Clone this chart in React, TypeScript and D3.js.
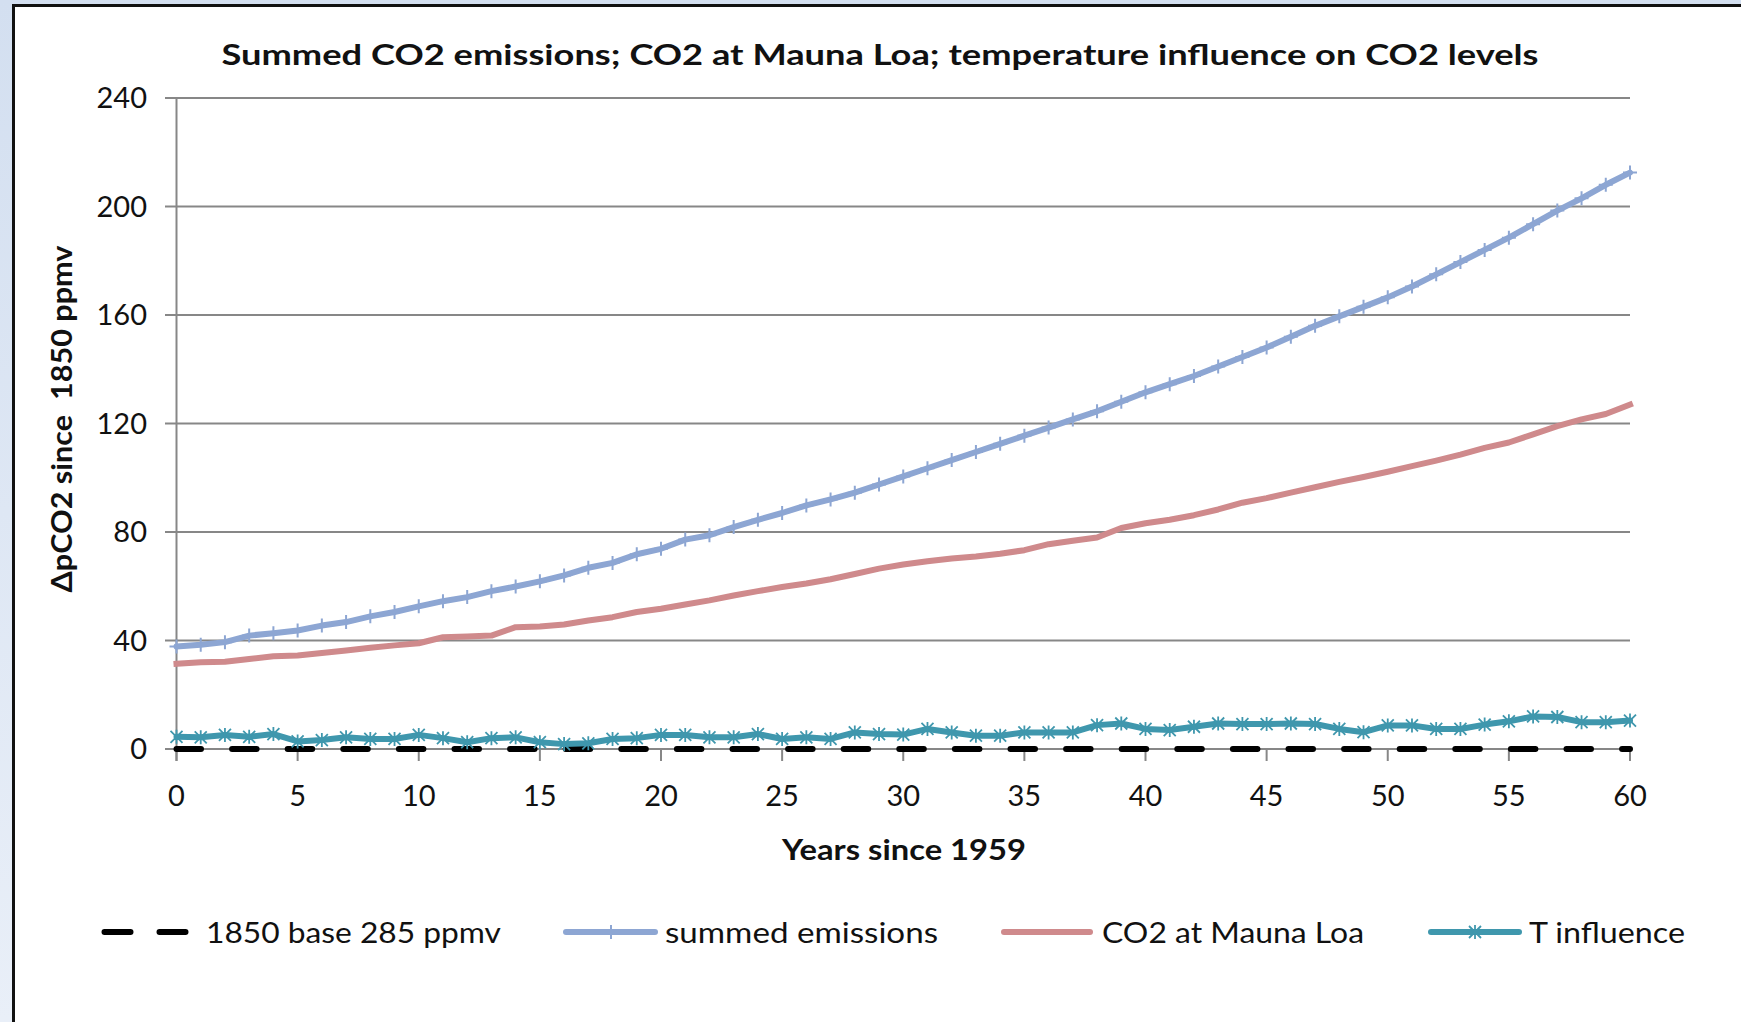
import React, { useEffect } from 'react';
import * as d3 from 'd3';

const W = 1741;
const H = 1022;

const titleText = 'Summed CO2 emissions; CO2 at Mauna Loa; temperature influence on CO2 levels';
const xTitle = 'Years since 1959';
const yTitle = 'ΔpCO2 since  1850 ppmv';

const yTicks = [0, 40, 80, 120, 160, 200, 240];
const xTicks = [0, 5, 10, 15, 20, 25, 30, 35, 40, 45, 50, 55, 60];

const legendLabels = ['1850 base 285 ppmv', 'summed emissions', 'CO2 at Mauna Loa', 'T influence'];

// 1850 base: constant 0 across the whole range
const baseYears = [0, 60];
const baseSeries = [0, 0];

const summedEmissions = [
  37.8, 38.4, 39.4, 41.8, 42.7, 43.7, 45.5, 46.8, 48.9, 50.5,
  52.6, 54.5, 56.0, 58.2, 59.9, 61.8, 64.0, 66.8, 68.6, 71.8,
  73.8, 77.2, 78.8, 81.8, 84.5, 87.0, 89.8, 92.0, 94.5, 97.5,
  100.5, 103.5, 106.5, 109.5, 112.5, 115.5, 118.5, 121.5, 124.5, 128.0,
  131.5, 134.5, 137.5, 141.0, 144.5, 148.0, 152.0, 156.0, 159.5, 163.0,
  166.5, 170.5, 175.0, 179.5, 184.0, 188.5, 193.5, 198.5, 203.0, 208.0,
  212.5,
];

const co2MaunaLoa = [
  31.4, 32.0, 32.2, 33.2, 34.2, 34.5, 35.4, 36.3, 37.3, 38.2,
  39.0, 41.2, 41.5, 41.8, 44.9, 45.2, 45.9, 47.4, 48.6, 50.5,
  51.7, 53.3, 54.8, 56.6, 58.2, 59.7, 61.0, 62.6, 64.5, 66.5,
  68.0, 69.2, 70.2, 71.0, 72.0, 73.3, 75.5, 76.8, 78.0, 81.5,
  83.2, 84.5, 86.2, 88.3, 90.8, 92.5, 94.5, 96.5, 98.5, 100.3,
  102.2, 104.3, 106.3, 108.5, 111.0, 113.0, 116.0, 119.0, 121.5, 123.5,
  127.0,
];

const tInfluence = [
  4.5, 4.3, 5.2, 4.5, 5.5, 2.8, 3.3, 4.3, 3.7, 3.7,
  5.2, 4.0, 2.5, 4.0, 4.3, 2.5, 1.8, 2.1, 3.7, 4.0,
  5.2, 5.2, 4.3, 4.3, 5.5, 3.7, 4.3, 3.7, 6.1, 5.5,
  5.3, 7.4, 6.1, 4.9, 4.9, 6.1, 6.1, 6.1, 8.8, 9.4,
  7.4, 7.0, 8.2, 9.4, 9.2, 9.2, 9.4, 9.2, 7.4, 6.2,
  8.7, 8.7, 7.4, 7.4, 9.0, 10.2, 12.0, 11.8, 9.9, 9.9,
  10.5,
];

const C_BLUE = '#8da6d3';
const C_RED = '#cf8a8c';
const C_TEAL = '#3f97ad';
const C_GRID = '#878787';
const FONT = 'Lato, Carlito, "Open Sans", sans-serif';

export default function App() {
  useEffect(() => {
    document.body.style.margin = '0';
  }, []);

  const x = d3.scaleLinear().domain([0, 60]).range([176.5, 1630]);
  const y = d3.scaleLinear().domain([0, 240]).range([749, 98]);

  const line = d3
    .line<number>()
    .x((_, i) => x(i))
    .y((d) => y(d));

  const baseLine = d3
    .line<number>()
    .x((_, i) => x(baseYears[i]))
    .y((d) => y(d));

  const plus = (cx: number, cy: number, s: number) =>
    `M${cx},${cy - s}V${cy + s}M${cx - s},${cy}H${cx + s}`;
  const star = (cx: number, cy: number, s: number) =>
    `M${cx - s},${cy - s}L${cx + s},${cy + s}M${cx - s},${cy + s}L${cx + s},${cy - s}M${cx},${cy - s - 1}V${cy + s + 1}`;

  const legendY = 932;

  return (
    <div style={{ position: 'absolute', left: 0, top: 0 }}>
      <svg width={W} height={H} viewBox={`0 0 ${W} ${H}`} style={{ display: 'block' }}>
        <defs>
          <linearGradient id="bgstrip" x1="0" y1="0" x2="0" y2="1">
            <stop offset="0" stopColor="#d3dff0" />
            <stop offset="1" stopColor="#e9eff8" />
          </linearGradient>
        </defs>
        <rect x={0} y={0} width={W} height={H} fill="#ffffff" />
        <rect x={0} y={0} width={13} height={H} fill="url(#bgstrip)" />
        <rect x={0} y={0} width={W} height={4} fill="#d3dff0" />
        <line x1={12} y1={5.5} x2={W} y2={5.5} stroke="#111" strokeWidth={3} />
        <line x1={13.5} y1={4} x2={13.5} y2={H} stroke="#111" strokeWidth={3} />

        {/* Title */}
        <text
          x={880}
          y={65}
          textAnchor="middle"
          fontFamily={FONT}
          fontWeight="bold"
          fontSize={29}
          fill="#111"
          textLength={1317}
          lengthAdjust="spacingAndGlyphs"
        >
          {titleText}
        </text>

        {/* Grid lines & y ticks */}
        {yTicks.map((t) => (
          <g key={t}>
            <line x1={165} x2={x(60)} y1={y(t)} y2={y(t)} stroke={C_GRID} strokeWidth={2} />
            <text
              x={147}
              y={y(t)}
              dy="0.36em"
              textAnchor="end"
              fontFamily={FONT}
              fontSize={29}
              fill="#111"
            >
              {t}
            </text>
          </g>
        ))}

        {/* Y axis */}
        <line x1={x(0)} x2={x(0)} y1={y(240)} y2={y(0) + 12} stroke={C_GRID} strokeWidth={2} />

        {/* X ticks */}
        {xTicks.map((t) => (
          <g key={t}>
            <line x1={x(t)} x2={x(t)} y1={y(0)} y2={y(0) + 12} stroke={C_GRID} strokeWidth={2} />
            <text x={x(t)} y={806} textAnchor="middle" fontFamily={FONT} fontSize={29} fill="#111">
              {t}
            </text>
          </g>
        ))}

        {/* Axis titles */}
        <text
          x={904}
          y={860}
          textAnchor="middle"
          fontFamily={FONT}
          fontWeight="bold"
          fontSize={28}
          fill="#111"
          textLength={244}
          lengthAdjust="spacingAndGlyphs"
        >
          {xTitle}
        </text>
        <text
          transform="translate(72,419) rotate(-90)"
          textAnchor="middle"
          fontFamily={FONT}
          fontWeight="bold"
          fontSize={28}
          fill="#111"
          textLength={347}
          lengthAdjust="spacingAndGlyphs"
          style={{ whiteSpace: 'pre' }}
        >
          {yTitle}
        </text>

        {/* Series: 1850 base */}
        <path
          d={baseLine(baseSeries) || ''}
          fill="none"
          stroke="#000"
          strokeWidth={6}
          strokeLinecap="round"
          strokeDasharray="24.5 31.1"
        />

        {/* summed emissions */}
        <path
          d={line(summedEmissions) || ''}
          fill="none"
          stroke={C_BLUE}
          strokeWidth={6}
          strokeLinejoin="round"
          strokeLinecap="round"
        />
        <path
          d={summedEmissions.map((v, i) => plus(x(i), y(v), 7)).join('')}
          fill="none"
          stroke={C_BLUE}
          strokeWidth={2}
        />

        {/* CO2 at Mauna Loa */}
        <path
          d={line(co2MaunaLoa) || ''}
          fill="none"
          stroke={C_RED}
          strokeWidth={6}
          strokeLinejoin="round"
          strokeLinecap="square"
        />

        {/* T influence */}
        <path
          d={line(tInfluence) || ''}
          fill="none"
          stroke={C_TEAL}
          strokeWidth={6}
          strokeLinejoin="round"
          strokeLinecap="round"
        />
        <path
          d={tInfluence.map((v, i) => star(x(i), y(v), 6)).join('')}
          fill="none"
          stroke={C_TEAL}
          strokeWidth={1.8}
        />

        {/* Legend */}
        <line
          x1={104.5}
          x2={185.5}
          y1={legendY}
          y2={legendY}
          stroke="#000"
          strokeWidth={6}
          strokeLinecap="round"
          strokeDasharray="26 29"
        />
        <text x={206} y={943} fontFamily={FONT} fontSize={29} fill="#111" textLength={295} lengthAdjust="spacingAndGlyphs">
          {legendLabels[0]}
        </text>

        <line x1={566} x2={655} y1={legendY} y2={legendY} stroke={C_BLUE} strokeWidth={6} strokeLinecap="round" />
        <path d={plus(611, legendY, 7)} stroke={C_BLUE} strokeWidth={2} fill="none" />
        <text x={665} y={943} fontFamily={FONT} fontSize={29} fill="#111" textLength={273} lengthAdjust="spacingAndGlyphs">
          {legendLabels[1]}
        </text>

        <line x1={1004} x2={1090} y1={legendY} y2={legendY} stroke={C_RED} strokeWidth={6} strokeLinecap="round" />
        <text x={1102} y={943} fontFamily={FONT} fontSize={29} fill="#111" textLength={262} lengthAdjust="spacingAndGlyphs">
          {legendLabels[2]}
        </text>

        <line x1={1431} x2={1519} y1={legendY} y2={legendY} stroke={C_TEAL} strokeWidth={6} strokeLinecap="round" />
        <path d={star(1475, legendY, 6)} stroke={C_TEAL} strokeWidth={1.8} fill="none" />
        <text x={1529} y={943} fontFamily={FONT} fontSize={29} fill="#111" textLength={156} lengthAdjust="spacingAndGlyphs">
          {legendLabels[3]}
        </text>
      </svg>
    </div>
  );
}
